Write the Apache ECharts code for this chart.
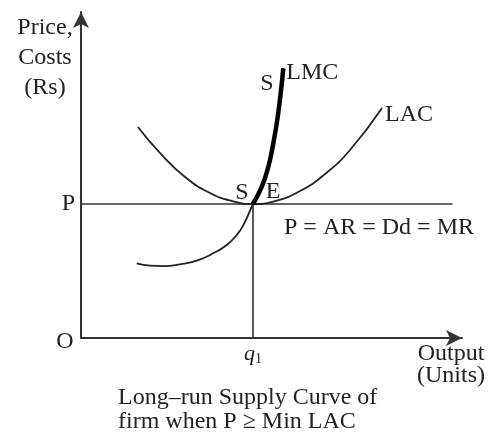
<!doctype html>
<html>
<head>
  <meta charset="utf-8">
  <script src="https://cdn.jsdelivr.net/npm/echarts@6/dist/echarts.min.js"></script>
</head>
<body>
  <style>
    html, body { width: 100%; height: 100%; margin: 0; background: #fff; }
    #main { width: 494px; height: 441px; }
  </style>
  <div id="main"></div>
  <script>
    // output q1 = 10, price P = 10 (arbitrary units)
    var q1 = 10, price = 10;
    var xMax = 22.15, yMax = 24.33;
    var lacData = [[3.31, 15.75], [4.59, 13.81], [6.05, 12.01], [7.50, 10.82], [8.78, 10.22], [10, 10],
      [11.28, 10.22], [12.73, 10.97], [14.19, 12.24], [15.64, 14.03], [17.50, 17.16]];
    // LMC below and above the equilibrium point E (q1, P)
    var lmcLower = [[3.24, 5.57], [4.01, 5.40], [4.78, 5.37], [5.76, 5.50], [6.73, 5.77], [7.69, 6.32],
      [8.47, 6.94], [9.05, 7.69], [9.44, 8.43], [10, 10]];
    var lmcUpper = [[10, 10], [10.51, 11.29], [10.89, 12.78], [11.18, 14.53], [11.41, 16.27], [11.61, 18.26], [11.76, 20.13]];
    var priceLine = [[0, price], [21.6, price]];
    var qLine = [[q1, 0], [q1, price]];

    var lmcAll = lmcLower.concat(lmcUpper.slice(1));

    var font = '"Liberation Serif", "Times New Roman", serif';
    var ink = '#222';
    var fs = 24;

    var chart = echarts.init(document.getElementById('main'));
    chart.setOption({
      animation: false,
      grid: { left: 81, right: 32, top: 12, bottom: 103 },
      xAxis: {
        type: 'value', min: 0, max: xMax, interval: 10,
        splitLine: { show: false },
        axisTick: { show: false },
        axisLine: { lineStyle: { color: '#333', width: 2 }, symbol: ['none', 'arrow'], symbolSize: [12, 16] },
        axisLabel: {
          margin: 4, fontFamily: font, fontSize: fs, color: ink,
          formatter: function (v) { return v === q1 ? '{q|q}{s|1}' : ''; },
          rich: {
            q: { fontFamily: font, fontStyle: 'italic', fontSize: 22, color: ink },
            s: { fontFamily: font, fontSize: 14, color: ink, padding: [10, 0, 0, 0] }
          }
        }
      },
      yAxis: {
        type: 'value', min: 0, max: yMax, interval: 10,
        splitLine: { show: false },
        axisTick: { show: false },
        axisLine: { lineStyle: { color: '#333', width: 2 }, symbol: ['none', 'arrow'], symbolSize: [12, 16] },
        axisLabel: {
          margin: 6, fontFamily: font, fontSize: fs, color: ink,
          formatter: function (v) { return v === price ? 'P' : ''; }
        }
      },
      series: [
        { type: 'line', data: priceLine, symbol: 'none', lineStyle: { color: '#333', width: 1.6 } },
        { type: 'line', data: qLine, symbol: 'none', lineStyle: { color: '#333', width: 1.6 } },
        {
          type: 'line', data: lacData, symbol: 'none', smooth: 0.5,
          lineStyle: { color: ink, width: 1.8 },
          endLabel: { show: true, formatter: 'LAC', fontFamily: font, fontSize: fs, color: ink, distance: 3, offset: [0, 7] }
        },
        { type: 'line', data: lmcAll, symbol: 'none', smooth: 0.5, lineStyle: { color: ink, width: 1.8 } },
        {
          // thick part of LMC (the supply curve), drawn from E upward
          type: 'line', data: lmcUpper, symbol: 'none', smooth: 0.5,
          lineStyle: { color: '#000', width: 4.5 },
          endLabel: { show: true, formatter: 'LMC', fontFamily: font, fontSize: fs, color: ink, distance: 3, offset: [0, 4] }
        }
      ],
      graphic: [
        { type: 'text', style: { text: 'Price,\nCosts\n(Rs)', x: 45, y: 13, align: 'center', lineHeight: 30, font: fs + 'px ' + font, fill: ink } },
        { type: 'text', style: { text: 'O', x: 65, y: 342, align: 'center', verticalAlign: 'middle', font: fs + 'px ' + font, fill: ink } },
        { type: 'text', style: { text: 'S', x: 267, y: 84, align: 'center', verticalAlign: 'middle', font: fs + 'px ' + font, fill: ink } },
        { type: 'text', style: { text: 'S', x: 242, y: 193, align: 'center', verticalAlign: 'middle', font: fs + 'px ' + font, fill: ink } },
        { type: 'text', style: { text: 'E', x: 273, y: 192, align: 'center', verticalAlign: 'middle', font: fs + 'px ' + font, fill: ink } },
        { type: 'text', style: { text: 'P = AR = Dd = MR', x: 379, y: 228, align: 'center', verticalAlign: 'middle', font: fs + 'px ' + font, fill: ink } },
        { type: 'text', style: { text: 'Output\n(Units)', x: 451, y: 343, align: 'center', lineHeight: 22, font: fs + 'px ' + font, fill: ink } },
        { type: 'text', style: { text: 'Long\u2013run Supply Curve of\nfirm when P \u2265 Min LAC', x: 118, y: 386, align: 'left', lineHeight: 24, font: fs + 'px ' + font, fill: ink } }
      ]
    });
  </script>
</body>
</html>
